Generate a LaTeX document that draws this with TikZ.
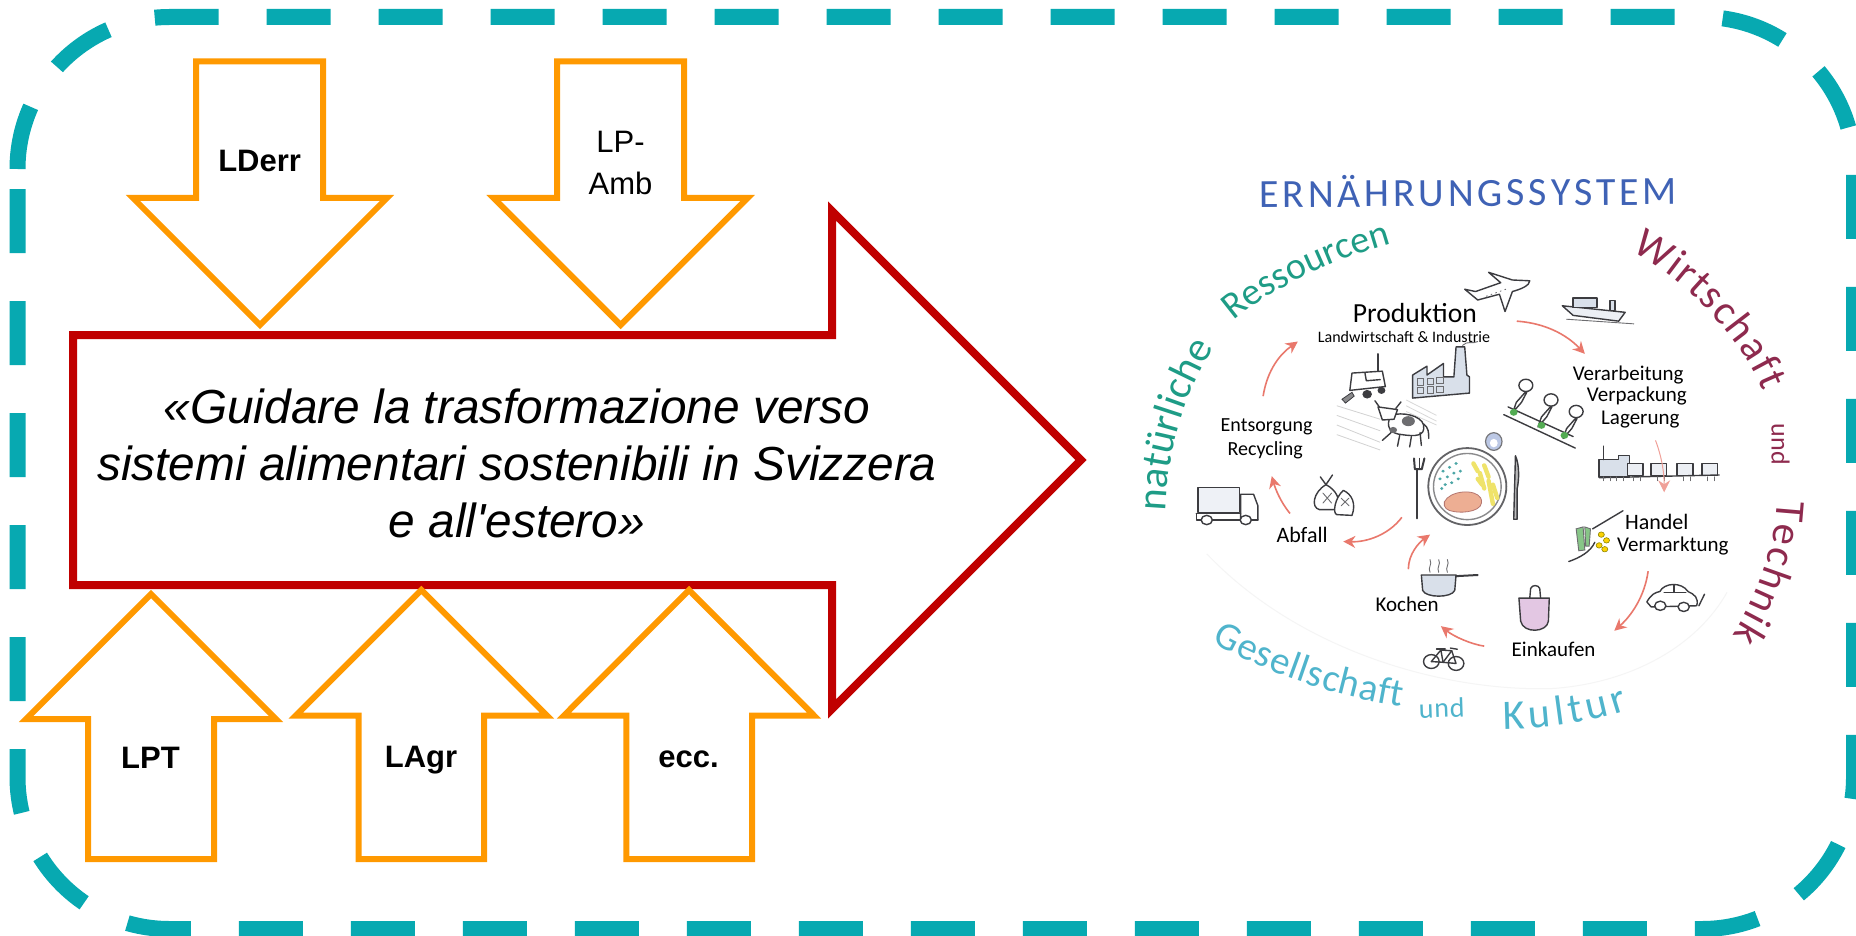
\documentclass[tikz,border=0pt]{standalone}
\usepackage{fontspec}
\setmainfont{Liberation Sans}
\newfontfamily\plainf{Liberation Sans}
\newfontfamily\handf{Carlito}
\usetikzlibrary{decorations.text,arrows.meta}
\definecolor{frameteal}{HTML}{07A9B1}
\definecolor{orangeline}{HTML}{FF9900}
\definecolor{redline}{HTML}{C00000}
\definecolor{titleblue}{HTML}{3F62B5}
\definecolor{resgreen}{HTML}{1E9C86}
\definecolor{wineink}{HTML}{8E2A4E}
\definecolor{socblue}{HTML}{4FB4CC}
\definecolor{salmon}{HTML}{E9786C}
\definecolor{inkgrey}{HTML}{3C3C40}
\definecolor{paleblue}{HTML}{D9E0EA}
\definecolor{peach}{HTML}{EDAE93}
\definecolor{fries}{HTML}{EFE36A}
\tikzset{
  smallarrow/.style={draw=orangeline,line width=3pt,miter limit=10},
  mainarrow/.style={draw=redline,line width=4pt,fill=white,miter limit=10},
  frameline/.style={draw=frameteal,line width=8pt,dash pattern=on 32pt off 24pt},
  arrowlabel/.style={font=\fontsize{15.5}{19}\selectfont,inner sep=0pt,anchor=base},
  ink/.style={draw=inkgrey,line width=.7pt,line join=round,line cap=round},
  thin ink/.style={draw=inkgrey!75,line width=.45pt,line cap=round},
  flow/.style={draw=salmon,line width=.8pt,-{Stealth[length=6pt,width=6pt]}},
  handlabel/.style={font=\handf\fontsize{#1}{#1}\selectfont,text=black,inner sep=0pt},
}
\begin{document}
\begin{tikzpicture}[x=0.5pt,y=-0.5pt]
\useasboundingbox (0,0) rectangle (1856,936);
\fill[white] (0,0) rectangle (1856,936);
% dashed frame
\path[frameline] (17.5,169) arc (180:270:152) -- (1702,17) arc (270:360:152) -- (1854,777) arc (0:90:152) -- (169.5,929) arc (90:180:152) -- cycle;
% main arrow
\path[mainarrow] (73,335) -- (832,335) -- (832,211) -- (1081,460) -- (832,709) -- (832,585) -- (73,585) -- cycle;
\node[inner sep=0pt,align=center,font=\plainf\fontsize{23.9}{28.5}\selectfont\itshape] (goal) at (517,463) {«Guidare la trasformazione verso\\sistemi alimentari sostenibili in Svizzera\\e all'estero»};
% down arrows
\path[smallarrow] (196,61.5) -- (323,61.5) -- (323,198) -- (387,198) -- (260,325) -- (133,198) -- (196,198) -- cycle;
\path[smallarrow] (557,61.5) -- (684,61.5) -- (684,198) -- (747.5,198) -- (620.5,325) -- (493.5,198) -- (557,198) -- cycle;
\node[arrowlabel,font=\fontsize{15.5}{19}\selectfont\bfseries] (lderr) at (259.6,171.5) {LDerr};
\node[inner sep=0pt,align=center,font=\fontsize{15.5}{20.6}\selectfont] (lpamb) at (620.5,163) {LP-\\Amb};
% up arrows
\path[smallarrow] (88,859) -- (214,859) -- (214,719) -- (276,719) -- (151,594) -- (26,719) -- (88,719) -- cycle;
\path[smallarrow] (358.7,859) -- (484,859) -- (484,715.5) -- (546.9,715.5) -- (421.4,590) -- (295.9,715.5) -- (358.7,715.5) -- cycle;
\path[smallarrow] (626.3,859) -- (752,859) -- (752,715.5) -- (814,715.5) -- (689,590) -- (564,715.5) -- (626.3,715.5) -- cycle;
\node[arrowlabel,font=\fontsize{15.5}{19}\selectfont\bfseries] (lpt) at (150.5,768) {LPT};
\node[arrowlabel,font=\fontsize{15.5}{19}\selectfont\bfseries] (lagr) at (421,767.5) {LAgr};
\node[arrowlabel,font=\fontsize{15.5}{19}\selectfont\bfseries] (ecc) at (688.5,767) {ecc.};
% hand-drawn food system sketch, in the crop's own coordinates
\begin{scope}[shift={(1120,150)},x=0.2168pt,y=-0.1923pt]
% faint ground curve
\draw[black!4,line width=.5pt] (200,1050) .. controls (420,1310) and (760,1410) .. (1000,1400) .. controls (1180,1385) and (1330,1290) .. (1400,1150);
% curved hand lettering
\path[decorate,decoration={text along path,text align={fit to path},text={|\handf\fontsize{20}{20}\selectfont\color{titleblue}|ERNÄHRUNGSSYSTEM}}] (322,150) -- (1285,142);
\path[decorate,decoration={text along path,text align={fit to path},text={|\handf\fontsize{21}{21}\selectfont\color{resgreen}|natürliche}}] (105,940) .. controls (110,780) and (150,640) .. (205,535);
\path[decorate,decoration={text along path,text align={fit to path},text={|\handf\fontsize{19}{19}\selectfont\color{resgreen}|Ressourcen}}] (262,445) .. controls (350,360) and (480,290) .. (626,243);
\path[decorate,decoration={text along path,text align={fit to path},text={|\handf\fontsize{21}{21}\selectfont\color{wineink}|Wirtschaft}}] (1178,262) .. controls (1300,335) and (1430,480) .. (1482,628);
\path[decorate,decoration={text along path,text align={fit to path},text={|\handf\fontsize{13}{13}\selectfont\color{wineink}|und}}] (1503,712) -- (1503,812);
\path[decorate,decoration={text along path,text align={fit to path},text={|\handf\fontsize{21}{21}\selectfont\color{wineink}|Technik}}] (1515,910) .. controls (1510,1040) and (1470,1160) .. (1412,1262);
\path[decorate,decoration={text along path,text align={fit to path},text={|\handf\fontsize{19.5}{19.5}\selectfont\color{socblue}|Gesellschaft}}] (212,1280) .. controls (340,1360) and (490,1420) .. (650,1447);
\path[decorate,decoration={text along path,text align={fit to path},text={|\handf\fontsize{14}{14}\selectfont\color{socblue}|und}}] (690,1478) -- (795,1474);
\path[decorate,decoration={text along path,text align={fit to path},text={|\handf\fontsize{21}{21}\selectfont\color{socblue}|Kultur}}] (885,1505) .. controls (970,1505) and (1080,1490) .. (1172,1455);
% labels
\node[handlabel=13.8] (prod) at (680,425) {Produktion};
\node[handlabel=8] (landw) at (655,487) {Landwirtschaft \& Industrie};
\node[handlabel=10.5] (verarb) at (1172,585) {Verarbeitung};
\node[handlabel=10.5] (verpack) at (1192,640) {Verpackung};
\node[handlabel=10.5] (lager) at (1200,700) {Lagerung};
\node[handlabel=10] (entsorg) at (338,720) {Entsorgung};
\node[handlabel=10] (recyc) at (335,780) {Recycling};
\node[handlabel=11] (abfall) at (420,1000) {Abfall};
\node[handlabel=11] (handel) at (1238,968) {Handel};
\node[handlabel=10.5] (vermark) at (1275,1030) {Vermarktung};
\node[handlabel=10.5] (kochen) at (662,1182) {Kochen};
\node[handlabel=10.5] (einkauf) at (1000,1298) {Einkaufen};
% flow arrows
\draw[flow] (915,445) .. controls (980,450) and (1030,480) .. (1072,530);
\draw[flow] (1218,1095) .. controls (1210,1160) and (1180,1210) .. (1140,1250);
\draw[flow] (840,1290) .. controls (810,1285) and (770,1265) .. (740,1238);
\draw[flow] (665,1090) .. controls (665,1050) and (690,1020) .. (715,1000);
\draw[flow] (650,955) .. controls (620,1000) and (570,1020) .. (515,1018);
\draw[flow] (392,945) .. controls (370,915) and (358,880) .. (350,848);
\draw[flow] (330,640) .. controls (340,570) and (370,530) .. (410,498);
% plane
\path[ink,fill=white] (850,318) -- (905,338) -- (945,340) .. controls (945,352) and (925,362) .. (905,368) -- (888,420) -- (875,375) -- (825,390) -- (795,362) -- (820,368) -- (878,345) -- cycle;
\draw[thin ink,dotted] (845,380) -- (895,360);
% ship
\path[ink,fill=paleblue!50] (1020,405) -- (1165,422) -- (1150,445) -- (1045,430) -- cycle;
\path[ink,fill=paleblue] (1045,385) rectangle (1100,410);
\path[ink,fill=paleblue] (1130,392) rectangle (1142,418);
\draw[thin ink] (1030,440) -- (1185,452);
% field
\foreach \ya/\yb in {665/700,690/730,715/760,740/780}{\draw[gray!35,line width=.4pt] (500,\ya) -- (600,\yb);}
\foreach \ya/\yb in {650/690,665/705,680/715}{\draw[gray!30,line width=.4pt] (660,\ya) -- (730,\yb);}
% tractor
\draw[ink] (595,530) -- (595,578);
\path[ink,fill=white] (535,580) -- (605,575) -- (612,615) -- (530,625) -- cycle;
\draw[ink] (565,580) -- (568,600) -- (600,597);
\path[draw=inkgrey,fill=inkgrey] (570,635) circle [x radius=10,y radius=10];
\path[draw=inkgrey,fill=inkgrey] (603,625) circle [x radius=8,y radius=8];
\path[draw=inkgrey,fill=inkgrey!60] (512,648) -- (535,630) -- (540,640) -- (520,658) -- cycle;
% factory
\path[ink,fill=paleblue] (675,585) -- (708,562) -- (708,585) -- (746,555) -- (746,590) -- (770,590) -- (775,512) -- (795,512) -- (800,585) -- (806,590) -- (806,632) -- (675,645) -- cycle;
\draw[thin ink] (790,508) .. controls (800,495) and (815,505) .. (825,498);
\foreach \wx/\wy in {685/595,708/593,730/592,685/618,708/616,730/615}{\draw[thin ink] (\wx,\wy) rectangle ++(15,16);}
% cow
\path[ink,fill=white] (625,690) .. controls (650,680) and (695,690) .. (700,715) .. controls (705,745) and (680,745) .. (650,740) .. controls (625,738) and (610,720) .. (625,690) -- cycle;
\fill[inkgrey!75] (665,705) circle [x radius=15,y radius=13];
\fill[inkgrey!75] (630,728) circle [x radius=9,y radius=8];
\path[ink,fill=white] (595,668) -- (640,675) -- (632,700) -- (605,702) -- cycle;
\draw[ink] (598,668) -- (588,652); \draw[ink] (636,672) -- (648,655);
\draw[ink] (625,735) -- (605,755); \draw[ink] (645,742) -- (640,770); \draw[ink] (672,745) -- (668,772); \draw[ink] (692,735) -- (695,768);
\draw[ink] (700,712) .. controls (712,722) and (712,735) .. (712,750);
% conveyor and people
\draw[ink] (885,688) -- (1050,775); \draw[ink] (895,668) -- (1045,745);
\foreach \hx/\hy in {936/612,994/650,1052/680}{
  \path[ink,fill=white] (\hx,\hy) circle [x radius=16,y radius=16];
  \draw[ink] (\hx,\hy+16) -- ++(-22,28) -- ++(-8,26) -- ++(20,-26) -- ++(12,-26) -- cycle;}
\fill[green!35!gray] (908,682) circle [x radius=9,y radius=9];
\fill[green!35!gray] (972,716) circle [x radius=9,y radius=9];
\fill[green!35!gray] (1025,742) circle [x radius=9,y radius=9];
% train
\path[ink,fill=paleblue] (1105,805) -- (1150,805) -- (1150,795) -- (1175,795) -- (1175,850) -- (1105,850) -- cycle;
\draw[ink] (1115,770) -- (1115,805);
\foreach \tx in {1170,1225,1285,1342}{\path[ink,fill=paleblue!50] (\tx,815) rectangle ++(36,32);}
\draw[ink] (1105,852) -- (1382,845);
\foreach \tx in {1115,1130,1145,1160,1185,1200,1240,1255,1300,1315,1355,1370}{\draw[thin ink] (\tx,850) -- (\tx,860);}
\draw[flow,line width=.5pt,salmon!70] (1235,755) .. controls (1250,800) and (1255,840) .. (1255,890);
% plate and cutlery
\path[ink,line width=.9pt,draw=inkgrey!80] (801,875) circle [x radius=90,y radius=100];
\path[ink,draw=inkgrey!60] (801,875) circle [x radius=78,y radius=86];
\path[fill=peach,draw=salmon!70!black!80,line width=.4pt] (748,915) .. controls (760,885) and (820,880) .. (832,905) .. controls (845,940) and (790,945) .. (770,940) .. controls (755,938) and (745,930) .. (748,915) -- cycle;
\foreach \fx/\fy/\fz in {815/815/835,830/840/880,850/860/920,840/820/850,860/870/905,825/855/870}{\draw[fries,line width=2.2pt,line cap=round] (\fx,\fy) -- (\fx+10,\fz);}
\foreach \dx/\dy in {745/835,760/825,775/815,738/855,755/850,770/840,785/835,750/870,765/865,780/855,742/880}{\fill[teal!70] (\dx,\dy) circle [x radius=4,y radius=4];}
\draw[ink,line width=1pt] (686,830) -- (686,958);
\draw[ink,line width=1pt] (678,802) -- (680,830) -- (696,830) -- (702,802); \draw[ink] (690,802) -- (690,830);
\path[ink,fill=inkgrey!35] (912,795) .. controls (922,820) and (920,860) .. (916,880) -- (916,960) -- (908,960) -- cycle;
\path[draw=inkgrey!70,fill=titleblue!35,line width=.6pt] (862,758) circle [x radius=19,y radius=23];
\path[fill=white] (862,762) circle [x radius=9,y radius=11];
% rubbish bags
\path[ink,fill=white] (475,870) .. controls (445,890) and (440,930) .. (460,935) -- (500,935) .. controls (510,910) and (500,885) .. (475,870) -- cycle;
\draw[ink] (462,850) -- (475,870) -- (490,845);
\path[ink,fill=white] (515,885) .. controls (495,905) and (490,945) .. (500,948) -- (535,950) .. controls (545,920) and (535,895) .. (515,885) -- cycle;
\draw[thin ink] (468,892) -- (488,918); \draw[thin ink] (488,892) -- (468,918);
\draw[thin ink] (510,905) -- (528,925); \draw[thin ink] (528,905) -- (510,925);
% lorry
\path[ink,fill=paleblue!45] (180,878) rectangle (276,942);
\path[ink,fill=white] (278,895) -- (308,895) -- (318,925) -- (318,962) -- (278,962) -- cycle;
\draw[ink] (176,945) -- (278,945) ; \draw[ink] (176,945) -- (176,962) -- (318,962);
\path[ink,fill=white] (200,962) circle [x radius=13,y radius=12];
\path[ink,fill=white] (290,962) circle [x radius=13,y radius=12];
% money and hands
\draw[ink] (1090,985) -- (1160,938); \draw[ink] (1035,1070) .. controls (1060,1060) and (1085,1045) .. (1095,1020);
\path[thin ink,fill=green!35!gray!70] (1052,985) -- (1068,980) -- (1072,1040) -- (1058,1042) -- cycle;
\path[thin ink,fill=green!35!gray!70] (1072,980) -- (1085,985) -- (1082,1030) -- (1074,1030) -- cycle;
\foreach \cx/\cy in {1110/1000,1122/1015,1105/1028,1118/1038}{\path[draw=olive,fill=yellow!70!orange,line width=.3pt] (\cx,\cy) circle [x radius=7,y radius=7];}
% pot
\path[ink,fill=paleblue] (695,1105) -- (775,1105) -- (772,1145) .. controls (765,1165) and (705,1165) .. (698,1145) -- cycle;
\draw[ink,line width=1pt] (775,1108) -- (825,1105);
\foreach \sx in {715,735,755}{\draw[thin ink] (\sx,1098) .. controls (\sx-6,1085) and (\sx+6,1078) .. (\sx,1065);}
% shopping bag
\path[ink,fill=violet!22!white] (920,1165) -- (990,1165) -- (988,1225) .. controls (985,1255) and (930,1258) .. (924,1225) -- cycle;
\draw[ink] (945,1165) -- (947,1140) .. controls (950,1130) and (965,1130) .. (968,1140) -- (970,1165);
% car
\path[ink,fill=white] (1215,1175) .. controls (1225,1155) and (1235,1150) .. (1245,1148) .. controls (1255,1125) and (1295,1122) .. (1310,1148) .. controls (1325,1155) and (1335,1165) .. (1330,1185) -- (1225,1188) -- cycle;
\draw[ink] (1278,1130) -- (1278,1150) ; \draw[ink] (1255,1150) -- (1305,1150);
\path[ink,fill=white] (1246,1185) circle [x radius=13,y radius=12];
\path[ink,fill=white] (1300,1188) circle [x radius=13,y radius=12];
\draw[ink] (1335,1185) -- (1348,1155);
% bicycle
\draw[ink] (718,1330) circle [x radius=18,y radius=18];
\draw[ink] (775,1335) circle [x radius=18,y radius=18];
\draw[ink] (718,1330) -- (740,1300) -- (765,1302) -- (775,1335) -- (745,1332) -- (740,1300); \draw[ink] (718,1330) -- (745,1332) -- (765,1302);
\draw[ink] (730,1297) -- (750,1297); \draw[ink] (762,1295) -- (778,1298);
\end{scope}
\end{tikzpicture}
\end{document}
